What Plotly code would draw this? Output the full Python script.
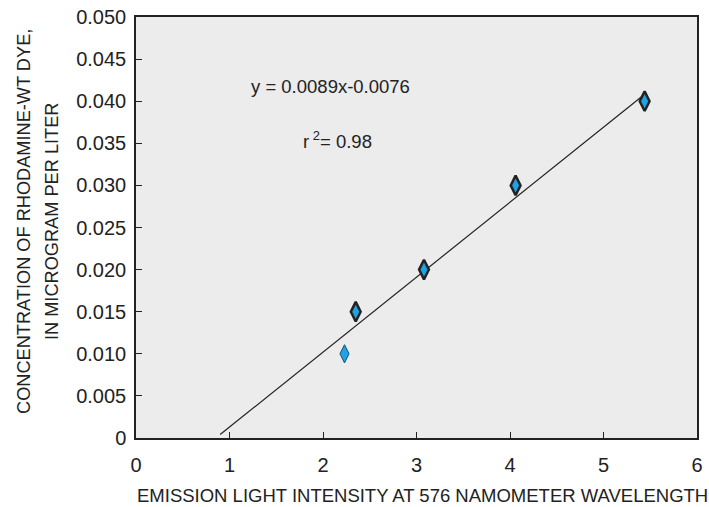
import plotly.graph_objects as go

x_vals = [2.23, 2.35, 3.08, 4.06, 5.44]
y_vals = [0.010, 0.015, 0.020, 0.030, 0.040]
outlined = [False, True, True, True, True]
slope = 0.0089
intercept = -0.0076
line_x = [0.9, 5.43]
x_ticks = [0, 1, 2, 3, 4, 5, 6]
y_ticks = [0, 0.005, 0.010, 0.015, 0.020, 0.025, 0.030, 0.035, 0.040, 0.045, 0.050]
y_tick_text = ["0", "0.005", "0.010", "0.015", "0.020", "0.025", "0.030", "0.035", "0.040", "0.045", "0.050"]
y_title_lines = ["CONCENTRATION OF RHODAMINE-WT DYE,", "IN MICROGRAM PER LITER"]
x_title = "EMISSION LIGHT INTENSITY AT 576 NAMOMETER WAVELENGTH"

font = "Liberation Sans, Arial, sans-serif"
fig = go.Figure()
fig.add_trace(go.Scatter(
    x=line_x, y=[slope * v + intercept for v in line_x], mode="lines",
    line=dict(color="#222222", width=1.2), showlegend=False, hoverinfo="skip"))
fig.add_trace(go.Scatter(
    x=[x for x, o in zip(x_vals, outlined) if not o],
    y=[y for y, o in zip(y_vals, outlined) if not o],
    mode="markers", showlegend=False,
    marker=dict(symbol="diamond-tall", size=13, color="#1ea3e6",
                line=dict(color="#1a4f70", width=1))))
fig.add_trace(go.Scatter(
    x=[x for x, o in zip(x_vals, outlined) if o],
    y=[y for y, o in zip(y_vals, outlined) if o],
    mode="markers", showlegend=False,
    marker=dict(symbol="diamond-tall", size=14, color="#1ea3e6",
                line=dict(color="#222222", width=2.5))))

fig.add_annotation(x=2.08, y=0.0417, text="y = 0.0089x-0.0076", showarrow=False,
                   font=dict(family=font, size=18.5, color="#222"))
fig.add_annotation(x=2.16, y=0.0354, text="r<sup> 2</sup>= 0.98", showarrow=False,
                   font=dict(family=font, size=18.5, color="#222"))

for xp, line in zip([-0.2, -0.15], y_title_lines):
    fig.add_annotation(xref="paper", yref="paper", x=xp, y=0.515, text=line,
                       textangle=-90, showarrow=False, xanchor="center", yanchor="middle",
                       font=dict(family=font, size=18.2, color="#222"))
fig.add_annotation(xref="paper", yref="paper", x=0.51, y=-0.1354, text=x_title,
                   showarrow=False, xanchor="center", yanchor="middle",
                   font=dict(family=font, size=18.5, color="#222"))

fig.update_layout(
    width=709, height=507,
    margin=dict(l=136, r=12, t=17, b=69, autoexpand=False),
    paper_bgcolor="white", plot_bgcolor="#ececec",
    font=dict(family=font, size=20, color="#222"),
    xaxis=dict(range=[0, 6], tickvals=x_ticks, ticks="inside", ticklen=6,
               tickcolor="#222", showgrid=False, zeroline=False,
               showline=True, linecolor="#222", linewidth=1.5, mirror=True,
               tickfont=dict(size=20), ticklabelstandoff=8,
               ticklabeloverflow="allow", automargin=False),
    yaxis=dict(range=[0, 0.050], tickvals=y_ticks, ticktext=y_tick_text,
               ticks="inside", ticklen=6, tickcolor="#222", showgrid=False,
               zeroline=False, showline=True, linecolor="#222", linewidth=1.5,
               mirror=True, tickfont=dict(size=20), ticklabelstandoff=4,
               ticklabeloverflow="allow", automargin=False),
)
fig.write_html("out.html", config={"displayModeBar": False},
               post_script="document.body.style.margin='0';document.body.style.overflow='hidden';")
